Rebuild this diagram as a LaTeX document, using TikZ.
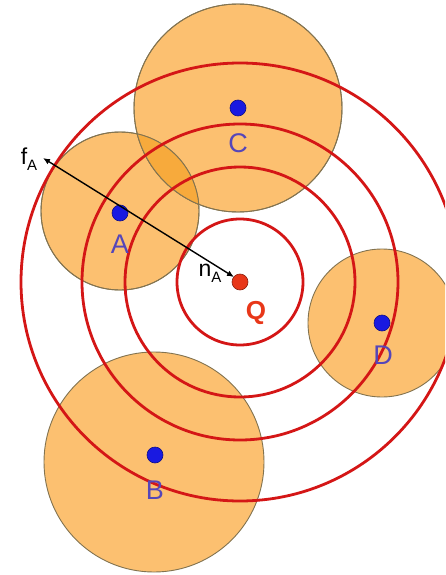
\documentclass[tikz,border=0pt]{standalone}
\usepackage{fontspec}
\setmainfont{Liberation Sans}
\usetikzlibrary{arrows.meta}
\definecolor{discfill}{RGB}{252,192,112}
\definecolor{discedge}{RGB}{130,115,80}
\definecolor{overlapfill}{RGB}{247,170,60}
\definecolor{ringred}{RGB}{212,22,22}
\definecolor{dotblue}{RGB}{25,25,225}
\definecolor{labblue}{RGB}{85,70,185}
\definecolor{qred}{RGB}{232,55,25}
\tikzset{
  disc/.style={fill=discfill,draw=discedge,line width=0.9pt},
  ring/.style={draw=ringred,line width=2.8pt},
  bdot/.style={circle,fill=dotblue,draw=dotblue!60!black,line width=0.6pt,minimum size=16pt,inner sep=0pt},
  qdot/.style={circle,fill=qred,draw=qred!60!black,line width=0.6pt,minimum size=16pt,inner sep=0pt},
  lab/.style={text=labblue,font=\fontsize{27}{27}\selectfont,inner sep=0pt},
  blk/.style={text=black,font=\fontsize{23}{23}\selectfont,inner sep=0pt}
}
\newcommand{\subA}{{\fontsize{15}{15}\selectfont\raisebox{-6pt}{A}}}
\begin{document}
\begin{tikzpicture}[x=1pt,y=-1pt]
\useasboundingbox (0,0) rectangle (445,575);
\clip (0,0) rectangle (445,575);
% discs
\fill[disc] (120,211) circle (79);
\fill[disc] (238,108) circle (104);
\fill[disc] (382,323) circle (74);
\fill[disc] (154,462) circle (110);
\draw[discedge,line width=0.9pt] (120,211) circle (79);
\draw[discedge,line width=0.9pt] (238,108) circle (104);
\begin{scope}
  \clip (120,211) circle (79);
  \fill[overlapfill,draw=discedge,line width=0.9pt] (238,108) circle (104);
\end{scope}
\begin{scope}
  \clip (238,108) circle (104);
  \draw[discedge,line width=0.9pt] (120,211) circle (79);
\end{scope}
% rings
\draw[ring] (240,282) circle (63);
\draw[ring] (240,282) circle (115);
\draw[ring] (240,282) circle (158);
\draw[ring] (240,282) circle (219);
% dots
\node[bdot] (A) at (120,213) {};
\node[bdot] (C) at (238,108) {};
\node[bdot] (D) at (382,323) {};
\node[bdot] (B) at (155,455) {};
\node[qdot] (Q) at (240,282) {};
% arrow
\coordinate (fA) at (43,158);
\coordinate (nA) at (234,277);
\draw[black,line width=1.4pt,{Latex[length=7pt,width=6pt]}-{Latex[length=7pt,width=6pt]}] (fA) -- (nA);
% labels
\node[lab] (lA) at (120,244) {A};
\node[lab] (lC) at (238,143) {C};
\node[lab] (lD) at (383,355) {D};
\node[lab] (lB) at (155,490) {B};
\node[text=qred,font=\fontsize{26}{26}\bfseries\selectfont,inner sep=0pt] (lQ) at (256,313) {Q};
\node[blk] (lf) at (29,159) {f\subA};
\node[blk] (ln) at (210,273) {n\subA};
\end{tikzpicture}
\end{document}
